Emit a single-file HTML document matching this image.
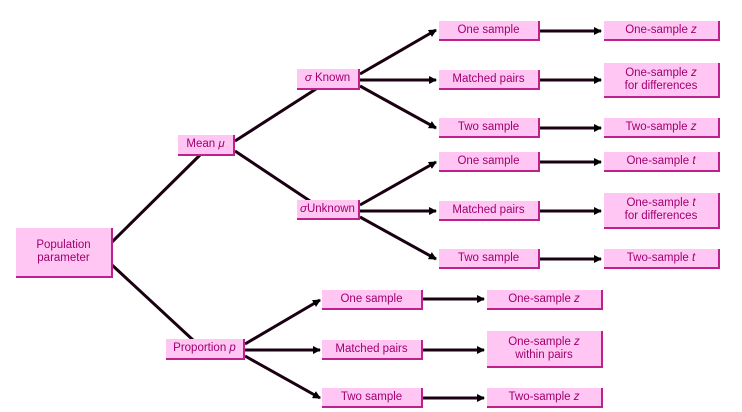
<!DOCTYPE html>
<html><head><meta charset="utf-8"><style>
body{margin:0;background:#fff;width:742px;height:412px;position:relative;overflow:hidden;font-family:"Liberation Sans",sans-serif}
.b{position:absolute;box-sizing:border-box;background:#ffc6f4;border-right:2px solid #c0208c;border-bottom:2px solid #c0208c;color:#a0006c;font-size:11.5px;display:flex;align-items:center;justify-content:center;text-align:center;line-height:13px;white-space:nowrap}
.b span{display:block}
svg{position:absolute;left:0;top:0}
</style></head><body>
<svg width="742" height="412">
<defs><marker id="a" markerWidth="8" markerHeight="8" refX="7" refY="4" orient="auto" markerUnits="userSpaceOnUse"><path d="M0,0 L8,4 L0,8z" fill="#000"/></marker></defs>
<g stroke="#1a0010" stroke-width="3" fill="none">
<line x1="112" y1="242" x2="200" y2="155"/>
<line x1="112" y1="265" x2="193" y2="340"/>
<line x1="235" y1="141" x2="316" y2="89"/>
<line x1="235" y1="151" x2="310" y2="201"/>
</g>
<g stroke="#1a0010" stroke-width="3" fill="none" marker-end="url(#a)">
<line x1="360" y1="74" x2="436" y2="30"/>
<line x1="360" y1="80" x2="436" y2="80"/>
<line x1="360" y1="86" x2="436" y2="128"/>
<line x1="360" y1="205" x2="436" y2="162"/>
<line x1="360" y1="211" x2="436" y2="211"/>
<line x1="360" y1="217" x2="436" y2="259"/>
<line x1="245" y1="344" x2="320" y2="300"/>
<line x1="245" y1="350" x2="320" y2="350"/>
<line x1="245" y1="356" x2="320" y2="398"/>
<line x1="540" y1="31" x2="601" y2="31"/>
<line x1="540" y1="80" x2="601" y2="80"/>
<line x1="540" y1="128" x2="601" y2="128"/>
<line x1="540" y1="162" x2="601" y2="162"/>
<line x1="540" y1="211" x2="601" y2="211"/>
<line x1="540" y1="259" x2="601" y2="259"/>
<line x1="423" y1="299" x2="484" y2="299"/>
<line x1="423" y1="350" x2="484" y2="350"/>
<line x1="423" y1="398" x2="484" y2="398"/>
</g></svg>
<div class="b" style="left:16px;top:228px;width:97px;height:50px"><span>Population<br>parameter</span></div>
<div class="b" style="left:178px;top:135px;width:57px;height:21px"><span>Mean <i>μ</i></span></div>
<div class="b" style="left:297px;top:69px;width:63px;height:21px"><span><i>σ</i> Known</span></div>
<div class="b" style="left:297px;top:200px;width:63px;height:20px"><span><i>σ</i>Unknown</span></div>
<div class="b" style="left:166px;top:339px;width:79px;height:21px"><span>Proportion <i>p</i></span></div>
<div class="b" style="left:439px;top:21px;width:101px;height:20px"><span>One sample</span></div>
<div class="b" style="left:439px;top:70px;width:101px;height:20px"><span>Matched pairs</span></div>
<div class="b" style="left:439px;top:118px;width:101px;height:20px"><span>Two sample</span></div>
<div class="b" style="left:439px;top:152px;width:101px;height:20px"><span>One sample</span></div>
<div class="b" style="left:439px;top:201px;width:101px;height:20px"><span>Matched pairs</span></div>
<div class="b" style="left:439px;top:249px;width:101px;height:20px"><span>Two sample</span></div>
<div class="b" style="left:604px;top:21px;width:116px;height:20px"><span>One-sample <i>z</i></span></div>
<div class="b" style="left:604px;top:63px;width:116px;height:35px"><span>One-sample <i>z</i><br>for differences</span></div>
<div class="b" style="left:604px;top:118px;width:116px;height:20px"><span>Two-sample <i>z</i></span></div>
<div class="b" style="left:604px;top:152px;width:116px;height:20px"><span>One-sample <i>t</i></span></div>
<div class="b" style="left:604px;top:193px;width:116px;height:36px"><span>One-sample <i>t</i><br>for differences</span></div>
<div class="b" style="left:604px;top:249px;width:116px;height:20px"><span>Two-sample <i>t</i></span></div>
<div class="b" style="left:322px;top:290px;width:101px;height:20px"><span>One sample</span></div>
<div class="b" style="left:322px;top:340px;width:101px;height:20px"><span>Matched pairs</span></div>
<div class="b" style="left:322px;top:388px;width:101px;height:20px"><span>Two sample</span></div>
<div class="b" style="left:487px;top:290px;width:116px;height:20px"><span>One-sample <i>z</i></span></div>
<div class="b" style="left:487px;top:331px;width:116px;height:37px"><span>One-sample <i>z</i><br>within pairs</span></div>
<div class="b" style="left:487px;top:388px;width:116px;height:20px"><span>Two-sample <i>z</i></span></div>
</body></html>
